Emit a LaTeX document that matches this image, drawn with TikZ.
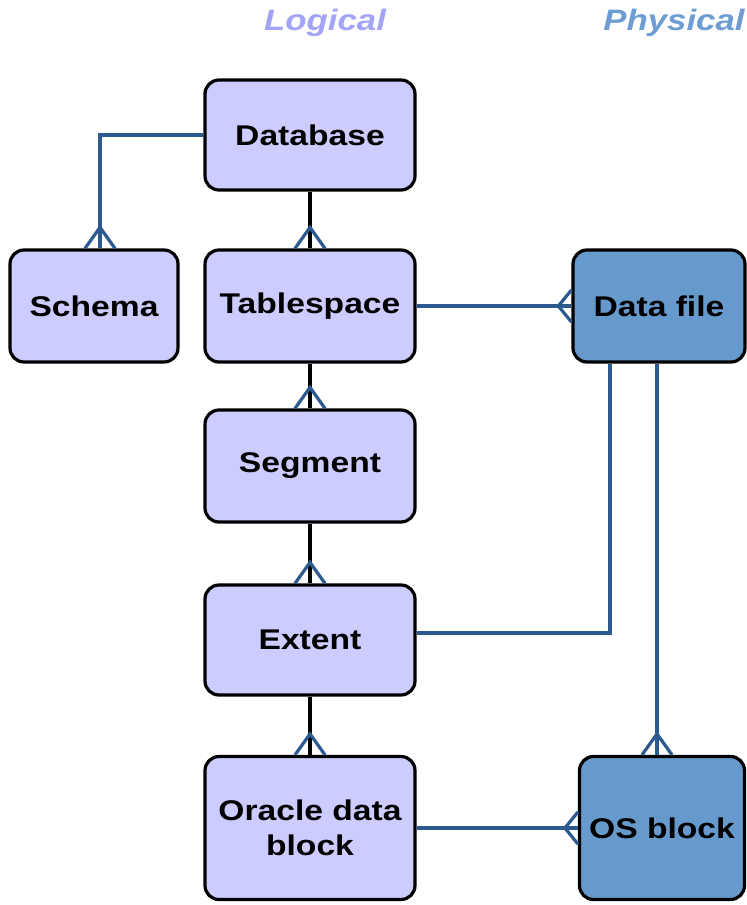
\documentclass[tikz,border=0pt]{standalone}
\usepackage{fontspec}
\setmainfont{Liberation Sans}[FakeStretch=1.18]
\usetikzlibrary{calc}
\definecolor{lightbox}{HTML}{CCCCFF}
\definecolor{darkbox}{HTML}{6699CC}
\definecolor{linkblue}{HTML}{2C5A8E}
\definecolor{logcol}{HTML}{A3A3F7}
\definecolor{phycol}{HTML}{6D9DD3}
\tikzset{
  ent/.style={draw=black, line width=3.2pt, rounded corners=14pt, align=center,
     font=\fontsize{28.5}{35}\selectfont\bfseries, inner sep=0pt},
  lent/.style={ent, fill=lightbox},
  pent/.style={ent, fill=darkbox},
  bl/.style={draw=linkblue, line width=3.2pt},
  blk/.style={draw=black, line width=3.2pt},
  hdr/.style={font=\fontsize{29.5}{34}\selectfont\bfseries\itshape, inner sep=0pt}
}
\newcommand\crowdown[1]{\draw[bl] ($(#1)+(-15,0)$) -- ($(#1)+(0,-21)$) -- ($(#1)+(15,0)$);}
\newcommand\crowright[1]{\draw[bl] ($(#1)+(0,-16)$) -- ($(#1)+(-13,0)$) -- ($(#1)+(0,16)$);}
\begin{document}
\begin{tikzpicture}[x=1pt,y=-1pt]
\useasboundingbox (0,0) rectangle (747,905);
\node[hdr, text=logcol] (hl) at (325,23) {Logical};
\node[hdr, text=phycol] (hp) at (674,23) {Physical};

\node[lent, minimum width=210, minimum height=110] (db) at (310,135) {Database};
\node[lent, minimum width=168, minimum height=112] (schema) at (94,306) {Schema};
\node[lent, minimum width=210, minimum height=112] (ts) at (310,306) {Tablespace};
\node[pent, minimum width=172, minimum height=112] (df) at (659,306) {Data file};
\node[lent, minimum width=210, minimum height=112] (seg) at (310,466) {Segment};
\node[lent, minimum width=210, minimum height=110] (ext) at (310,640) {Extent};
\node[lent, minimum width=210, minimum height=143] (odb) at (310,828) {Oracle data\\block};
\node[pent, minimum width=165, minimum height=143] (os) at (662,828) {OS block};

% connectors
\coordinate (sch) at ([xshift=6pt]schema.north);
\draw[bl] (db.west) -| (sch);
\crowdown{sch}
\draw[blk] (db.south) -- (ts.north);
\crowdown{ts.north}
\draw[blk] (ts.south) -- (seg.north);
\crowdown{seg.north}
\draw[blk] (seg.south) -- (ext.north);
\crowdown{ext.north}
\draw[blk] (ext.south) -- (odb.north);
\crowdown{odb.north}
\draw[bl] (ts.east) -- (df.west);
\crowright{df.west}
\coordinate (exe) at ([yshift=7pt]ext.east);
\coordinate (dfx) at ([xshift=-49pt]df.south);
\draw[bl] (exe) -| (dfx);
\coordinate (dfy) at ([xshift=-2pt]df.south);
\coordinate (osy) at (dfy |- os.north);
\draw[bl] (dfy) -- (osy);
\crowdown{osy}
\draw[bl] (odb.east) -- (os.west);
\crowright{os.west}
\end{tikzpicture}
\end{document}
